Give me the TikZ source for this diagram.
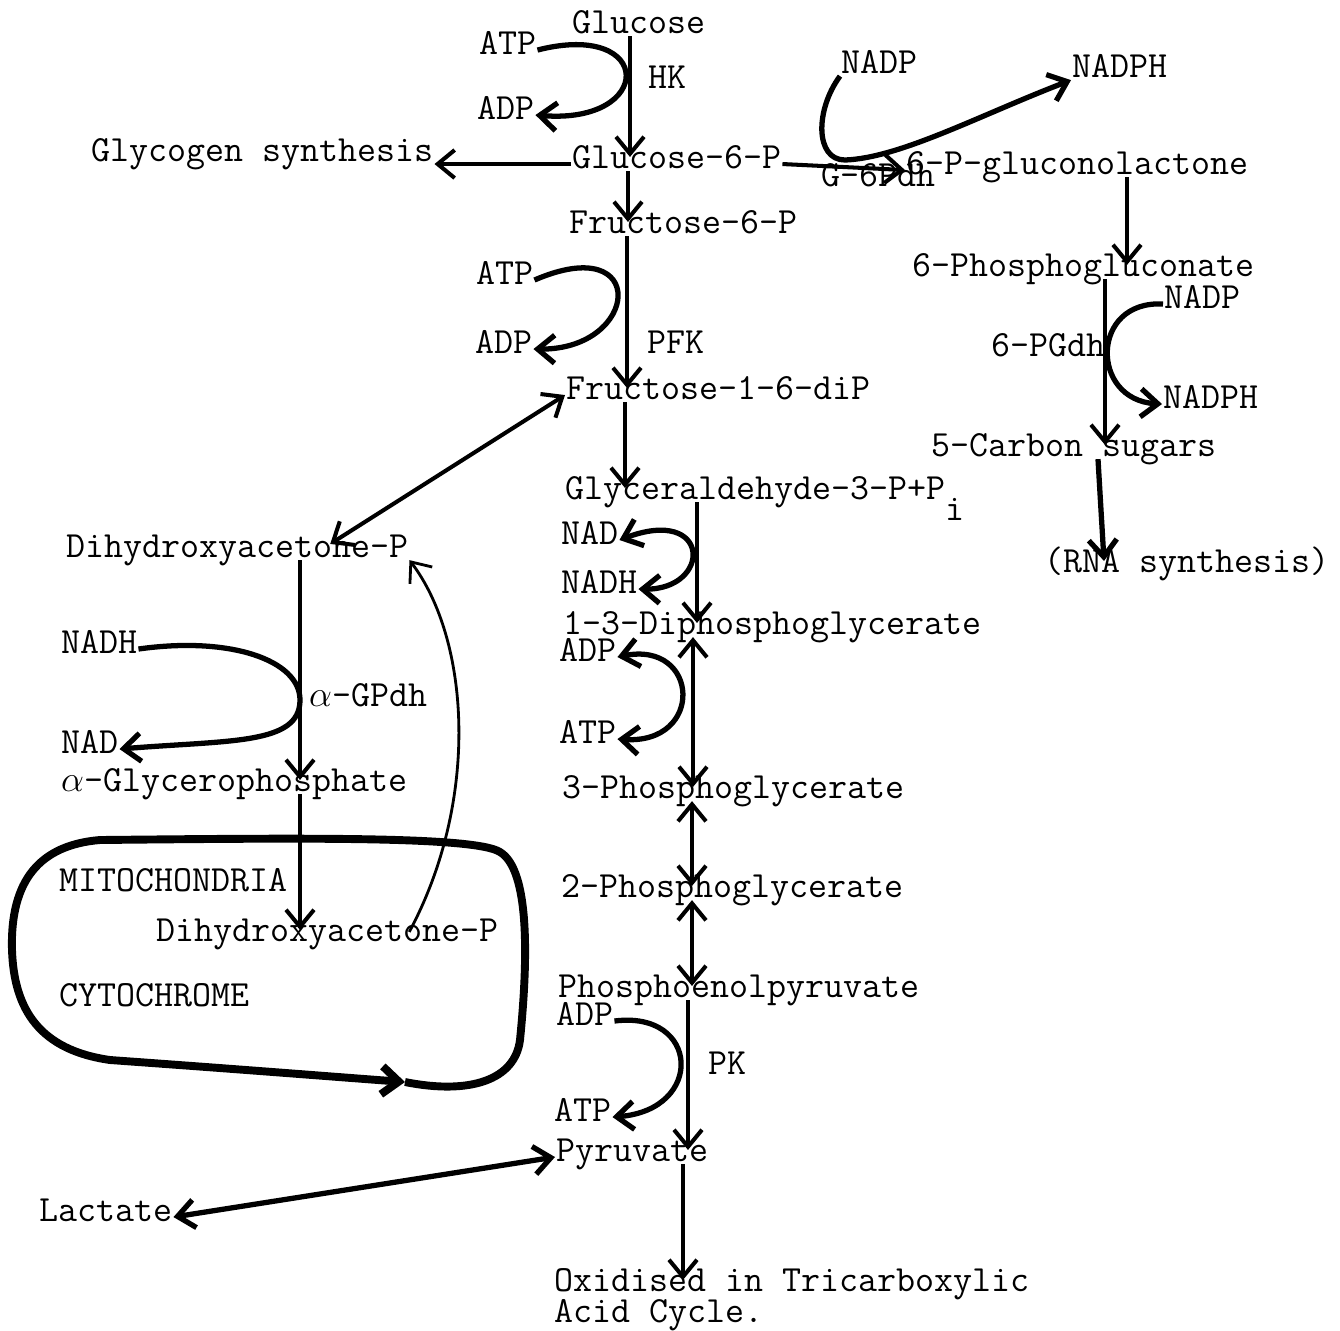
\documentclass[tikz,border=0pt]{standalone}
\usepackage{fontspec}
\usetikzlibrary{arrows.meta,calc}

\begin{document}
\begin{tikzpicture}[
  x=0.02cm, y=-0.02cm,
  >={Straight Barb[length=3.4mm,width=5.6mm]},
  lbl/.style={anchor=base west,inner sep=0.5pt,text height=1.3ex,text depth=.25ex,
    font=\ttfamily\fontsize{21}{24}\selectfont},
  flow/.style={line width=2.3pt},
  cofac/.style={line width=3pt},
  shuttle/.style={line width=1.6pt},
  membrane/.style={line width=4.5pt,line join=round},
]
  \useasboundingbox (0,0) rectangle (1340,1330);

  % glycolysis, upper part
  \node[lbl] (glc) at (571,33) {Glucose};
  \node[lbl] (atpA) at (478,54) {ATP};
  \node[lbl] (adpA) at (476,119) {ADP};
  \node[lbl] (hk) at (647,88) {HK};
  \node[lbl] (glyc) at (90,161) {Glycogen synthesis};
  \node[lbl] (g6p) at (571,168) {Glucose-6-P};
  \node[lbl] (f6p) at (568,233) {Fructose-6-P};
  \node[lbl] (atpB) at (475,284) {ATP};
  \node[lbl] (adpB) at (474,353) {ADP};
  \node[lbl] (pfk) at (646,353) {PFK};
  \node[lbl] (fdp) at (565,399) {Fructose-1-6-diP};

  % pentose phosphate branch
  \node[lbl] (nadpA) at (840,73) {NADP};
  \node[lbl] (nadphA) at (1071,77) {NADPH};
  \node[lbl] (g6pdh) at (820,186) {G-6Pdh};
  \node[lbl] (pgl) at (905,174) {6-P-gluconolactone};
  \node[lbl] (pgn) at (911,276) {6-Phosphogluconate};
  \node[lbl] (nadpB) at (1163,308) {NADP};
  \node[lbl] (pgdh) at (990,356) {6-PGdh};
  \node[lbl] (nadphB) at (1162,408) {NADPH};
  \node[lbl] (c5) at (930,456) {5-Carbon sugars};
  \node[lbl] (rna) at (1043,572) {(RNA synthesis)};

  % glycolysis, lower part
  \node[lbl] (gap) at (564,499) {Glyceraldehyde-3-P+P\raisebox{-12pt}{i}};
  \node[lbl] (nadA) at (560,544) {NAD};
  \node[lbl] (nadhA) at (560,593) {NADH};
  \node[lbl] (bpg) at (562,634) {1-3-Diphosphoglycerate};
  \node[lbl] (adpC) at (558,661) {ADP};
  \node[lbl] (atpC) at (558,743) {ATP};
  \node[lbl] (pg3) at (561,798) {3-Phosphoglycerate};
  \node[lbl] (pg2) at (560,897) {2-Phosphoglycerate};
  \node[lbl] (pep) at (557,997) {Phosphoenolpyruvate};
  \node[lbl] (adpD) at (555,1025) {ADP};
  \node[lbl] (pk) at (707,1074) {PK};
  \node[lbl] (atpD) at (553,1121) {ATP};
  \node[lbl] (pyr) at (555,1161) {Pyruvate};
  \node[lbl] (lac) at (38,1221) {Lactate};
  \node[lbl] (tca) at (553,1291) {Oxidised in Tricarboxylic};
  \node[lbl] (tcb) at (553,1322) {Acid Cycle.};

  % glycerophosphate shuttle
  \node[lbl] (dhap) at (65,557) {Dihydroxyacetone-P};
  \node[lbl] (nadhB) at (60,653) {NADH};
  \node[lbl] (agpdh) at (308,706) {$\alpha$-GPdh};
  \node[lbl] (nadB) at (60,753) {NAD};
  \node[lbl] (agp) at (60,791) {$\alpha$-Glycerophosphate};
  \node[lbl] (mito) at (58,891) {MITOCHONDRIA};
  \node[lbl] (mdhap) at (155,941) {Dihydroxyacetone-P};
  \node[lbl] (cyto) at (58,1006) {CYTOCHROME};

  % straight steps: from/to/x of the line/tips
  \foreach \a/\b/\c/\t in {glc/g6p/630/->,g6p/f6p/628/->,f6p/fdp/627/->,fdp/gap/625/->,
      gap/bpg/697/->,bpg/pg3/693/<->,pg3/pg2/692/<->,pg2/pep/692/<->,pep/pyr/688/->,
      pyr/tca/683/->,pgl/pgn/1127/->,pgn/c5/1105/->,dhap/agp/300/->,agp/mdhap/300/->}
    \draw[flow,\t] (\a.south -| \c,0) -- (\b.north -| \c,0);
  \draw[flow,line width=3pt,->] (c5.south -| 1098,0) -- (rna.north -| 1104,0);

  \draw[flow,->] (g6p.west) -- (glyc.east |- g6p.west);
  \draw[flow,->] (g6p.east) -- (pgl.west);
  \draw[flow,<->] (fdp.west) -- ($(dhap.north)+(93,-2)$);
  \draw[cofac,<->] (pyr.west) -- (lac.east);

  % cofactor loops
  \draw[cofac,->] (atpA.east) .. controls (655,20) and (655,125) .. (adpA.east);
  \draw[cofac,->] (atpB.east) .. controls (650,230) and (640,350) .. (adpB.east);
  \draw[cofac,->] (nadpA.south west) .. controls (815,110) and (815,160) .. (845,160)
    .. controls (900,158) and (980,115) .. (nadphA.south west);
  \draw[cofac,->] (nadpB.west) .. controls (1090,300) and (1090,400) .. (nadphB.west);
  \draw[cofac,<->] (nadA.east) .. controls (712,505) and (712,590) .. (nadhA.east);
  \draw[cofac,<->] (adpC.east) .. controls (700,640) and (705,745) .. (atpC.east);
  \draw[cofac,->] (adpD.east) .. controls (700,1010) and (705,1110) .. (atpD.east);
  \draw[cofac,->] (nadhB.east) .. controls (230,636) and (300,660) .. (300,700)
    .. controls (300,745) and (230,740) .. (nadB.east);

  % back to the cytoplasm
  \draw[shuttle,->] ($(mdhap.north)+(82,2)$) .. controls (480,800) and (470,640) .. (dhap.south east);

  % mitochondrion
  \draw[membrane,->] (405,1082) .. controls (470,1095) and (515,1080) .. (520,1040)
    .. controls (528,960) and (530,870) .. (500,852)
    .. controls (475,836) and (300,838) .. (100,840)
    .. controls (40,845) and (10,880) .. (12,950)
    .. controls (14,1010) and (40,1050) .. (110,1060)
    .. controls (250,1070) and (350,1078) .. (405,1082);
\end{tikzpicture}
\end{document}
